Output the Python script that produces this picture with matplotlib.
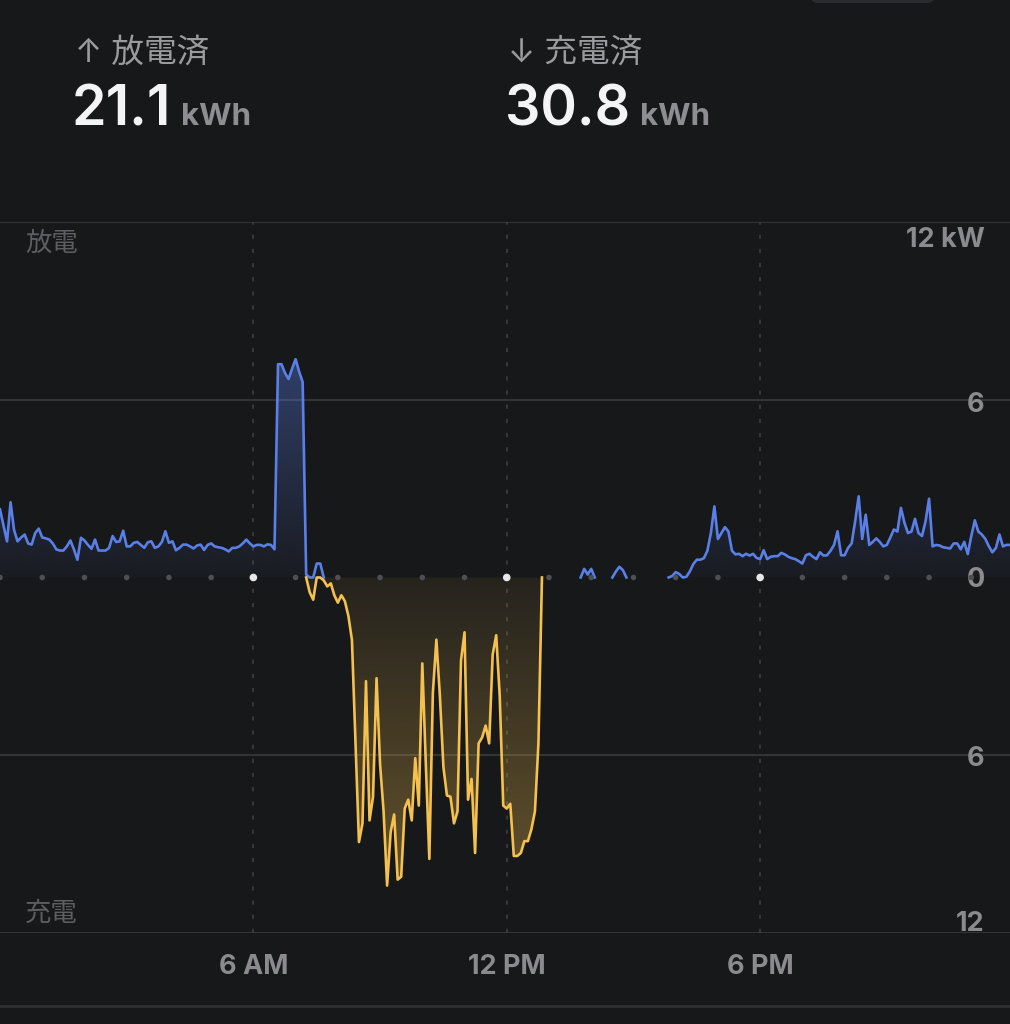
import numpy as np
import matplotlib
matplotlib.use("Agg")
import matplotlib.pyplot as plt
from matplotlib.path import Path
from matplotlib.colors import to_rgb
from matplotlib.patches import FancyBboxPatch
from matplotlib.lines import Line2D
from matplotlib.transforms import blended_transform_factory

plt.rcParams['font.family'] = ['Inter', 'Noto Sans CJK JP', 'DejaVu Sans']

# 5-minute samples, 00:00 .. 23:55 (kW)
discharge_kw = [
    2.3, 1.75, 1.22, 2.54, 1.6, 1.22, 1.35, 1.45, 1.15, 1.11,
    1.5, 1.65, 1.35, 1.32, 1.28, 1.15, 0.95, 0.91, 0.91, 1.05,
    1.25, 0.95, 0.6, 1.34, 1.25, 1.1, 0.97, 1.28, 0.91, 0.91,
    0.91, 1.0, 1.4, 1.2, 1.22, 1.58, 1.05, 1.05, 1.17, 1.2,
    1.1, 1.0, 1.19, 1.22, 1.0, 1.05, 1.2, 1.56, 1.17, 1.22,
    0.92, 1.0, 1.11, 1.11, 1.05, 0.98, 1.08, 1.11, 0.93, 1.1,
    1.15, 1.05, 1.02, 1.0, 0.95, 0.88, 1.0, 1.0, 1.05, 1.15,
    1.28, 1.15, 1.05, 1.1, 1.1, 1.05, 1.12, 1.1, 0.95, 7.2,
    7.2, 6.9, 6.7, 7.05, 7.37, 6.95, 6.6, 0.1, 0, 0,
    0.47, 0.47, 0, 0, 0, 0, 0, 0, 0, 0,
    0, 0, 0, 0, 0, 0, 0, 0, 0, 0,
    0, 0, 0, 0, 0, 0, 0, 0, 0, 0,
    0, 0, 0, 0, 0, 0, 0, 0, 0, 0,
    0, 0, 0, 0, 0, 0, 0, 0, 0, 0,
    0, 0, 0, 0, 0, 0, 0, 0, 0, 0,
    0, 0, 0, 0, 0, 0, 0, 0, 0, 0,
    0, 0, 0, 0, 0, 0, 0.29, 0.1, 0.29, 0,
    0, 0, 0, 0, 0, 0.2, 0.36, 0.25, 0, 0,
    0, 0, 0, 0, 0, 0, 0, 0, 0, 0,
    0, 0.05, 0.18, 0.12, 0, 0.02, 0.2, 0.45, 0.6, 0.6,
    0.65, 0.9, 1.5, 2.4, 1.3, 1.5, 1.7, 1.55, 0.9, 0.78,
    0.8, 0.72, 0.8, 0.74, 0.8, 0.66, 0.62, 0.92, 0.62, 0.7,
    0.72, 0.72, 0.83, 0.78, 0.7, 0.65, 0.62, 0.55, 0.47, 0.75,
    0.8, 0.7, 0.62, 0.85, 0.74, 0.75, 0.9, 1.1, 1.56, 0.75,
    0.75, 1.0, 1.15, 1.9, 2.74, 1.3, 2.12, 1.1, 1.2, 1.32,
    1.2, 1.05, 1.1, 1.35, 1.62, 1.55, 2.35, 1.85, 1.5, 1.55,
    1.98, 1.5, 1.4, 1.9, 2.66, 1.05, 1.1, 1.08, 1.02, 1.0,
    0.98, 1.15, 1.15, 0.95, 1.2, 0.79, 1.4, 1.93, 1.55, 1.45,
    1.3, 1.05, 0.85, 1.0, 1.45, 1.05, 1.1, 1.1,
]
charge_kw = [0] * 88 + [
    0.5, 0.75, 0, 0, 0.1, 0.3, 0.2, 0.6, 0.85, 0.6,
    0.8, 1.3, 2.1, 5.5, 8.93, 8.3, 3.5, 8.2, 7.4, 3.4,
    6.3, 7.9, 10.4, 8.6, 8.0, 10.2, 10.1, 7.8, 7.5, 8.2,
    6.1, 7.7, 2.9, 6.3, 9.5, 3.9, 2.1, 4.0, 6.4, 7.36,
    7.4, 8.3, 7.9, 2.8, 1.85, 7.5, 6.8, 9.3, 5.6, 5.4,
    5.0, 5.6, 2.6, 1.95, 4.0, 7.7, 7.8, 7.64, 9.4, 9.4,
    9.3, 8.9, 8.9, 8.5, 7.9, 5.6,
] + [0] * 134

hour_ticks = [6, 12, 18]
hour_labels = ['6 AM', '12 PM', '6 PM']
grid_kw = [12, 6, -6, -12]
scale_labels = ['12 kW', '6', '0', '6', '12']
scale_pos = [11.4, 5.83, -0.1, -6.13, -11.7]
totals = ['21.1', '30.8']
total_titles = ['↑ 放電済', '↓ 充電済']

BG = '#17181a'
BLUE = '#5a7fe6'
AMBER = '#f4c04e'

t = np.arange(len(discharge_kw)) * 5 / 60
dis = np.array(discharge_kw, dtype=float)
chg = -np.array(charge_kw, dtype=float)


def trace(v):
    # keep only the non-zero stretches plus the points that close them
    on = v != 0
    keep = on | np.r_[on[1:], False] | np.r_[False, on[:-1]]
    return np.where(keep, v, np.nan)


def gradient_fill(ax, x, y, color, y0, y1, a0, a1):
    poly = ax.fill_between(x, 0, y, color='none', lw=0)
    clip = Path.make_compound_path(*poly.get_paths())
    grad = np.zeros((256, 1, 4))
    grad[:, 0, :3] = to_rgb(color)
    grad[:, 0, 3] = np.linspace(a0, a1, 256)
    im = ax.imshow(grad, extent=[x[0], x[-1], y0, y1], origin='lower',
                   aspect='auto', zorder=1, interpolation='bilinear')
    im.set_clip_path(clip, transform=ax.transData)


fig = plt.figure(figsize=(10.1, 10.24), dpi=100, facecolor=BG)
ax = fig.add_axes([0, 0.0889, 1, 0.6943])
ax.set_facecolor('none')
ax.axis('off')

for g in grid_kw:
    ax.axhline(g, color='#333437', lw=1.5, zorder=0)
for h in hour_ticks:
    ax.axvline(h, color='#3d3e41', lw=1.2, ls=(0, (2.5, 6)), zorder=0)

gradient_fill(ax, t, dis, BLUE, 0, 8, 0.04, 0.42)
gradient_fill(ax, t, chg, AMBER, -11, 0, 0.36, 0.07)

ax.plot(t, trace(dis), color=BLUE, lw=1.9, zorder=3, solid_joinstyle='round')
ax.plot(t, trace(chg), color=AMBER, lw=1.9, zorder=3, solid_joinstyle='round')

hours = np.arange(0, 24)
dot_col = ['#e8e8ea' if h in hour_ticks else '#4e4f52' for h in hours]
dot_size = [30 if h in hour_ticks else 16 for h in hours]
ax.scatter(hours, np.zeros(len(hours)), c=dot_col, s=dot_size, lw=0, zorder=4)

ax.set_xlim(0, t[-1])
ax.set_ylim(-12, 12)

yt = blended_transform_factory(ax.transAxes, ax.transData)
for lab, y in zip(scale_labels, scale_pos):
    ax.text(0.975, y, lab, transform=yt, ha='right', va='center',
            fontsize=19.5, color='#8b8b8f', fontweight='bold')
ax.text(0.025, 11.26, '放電', transform=yt, ha='left', va='center', fontsize=19, color='#5d5e62')
ax.text(0.025, -11.35, '充電', transform=yt, ha='left', va='center', fontsize=19, color='#5d5e62')

xt = blended_transform_factory(ax.transData, fig.transFigure)
for h, lab in zip(hour_ticks, hour_labels):
    fig.text(h, 1 - 967 / 1024, lab, transform=xt, ha='center', va='center',
             fontsize=19.5, color='#8b8b8f', fontweight='bold')

fig.add_artist(Line2D([0, 1], [1 - 1006 / 1024] * 2, color='#2e2f32', lw=2))
fig.add_artist(FancyBboxPatch((810 / 1010, 1 - 3 / 1024), 125 / 1010, 0.02,
                              boxstyle='round,pad=0,rounding_size=0.008',
                              color='#2a2b2e', lw=0))

# header totals
renderer = fig.canvas.get_renderer()
for x0, title, val in zip([72, 505], total_titles, totals):
    fig.text((x0 + 3) / 1010, 1 - 62 / 1024, title, fontsize=23.5, color='#9b9b9f', va='baseline')
    num = fig.text(x0 / 1010, 1 - 126 / 1024, val, fontsize=40, color='#f4f4f6',
                   fontweight='semibold', va='baseline')
    right = num.get_window_extent(renderer).x1
    fig.text((right + 10) / 1010, 1 - 125 / 1024, 'kWh', fontsize=22.5, color='#8e8e92',
             fontweight='bold', va='baseline')

fig.savefig('out.png', dpi=100, facecolor=BG)
